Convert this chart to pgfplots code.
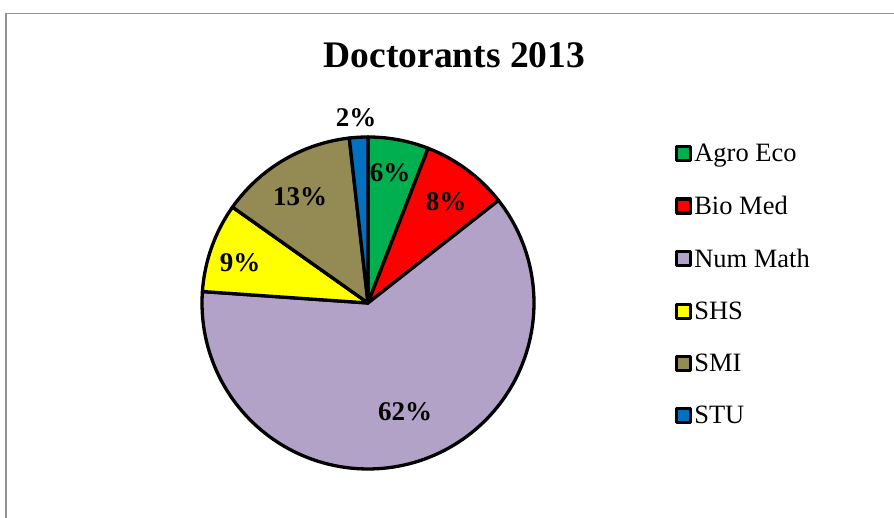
\documentclass[border=0pt]{standalone}
\usepackage{pgfplots}
\pgfplotsset{compat=1.18}
\usepackage{fontspec}
\setmainfont{Liberation Serif}
\definecolor{cAgro}{HTML}{00B050}
\definecolor{cBio}{HTML}{FF0000}
\definecolor{cNum}{HTML}{B3A2C7}
\definecolor{cSHS}{HTML}{FFFF00}
\definecolor{cSMI}{HTML}{948A54}
\definecolor{cSTU}{HTML}{0070C0}
% shares in percent
\def\vAgro{5.9}
\def\vBio{8.5}
\def\vNum{61.7}
\def\vSHS{8.7}
\def\vSMI{13.4}
\def\vSTU{1.8}
\begin{document}
\begin{tikzpicture}
\pgfmathsetmacro{\aA}{90}
\pgfmathsetmacro{\aB}{\aA-3.6*\vAgro}
\pgfmathsetmacro{\aC}{\aB-3.6*\vBio}
\pgfmathsetmacro{\aD}{\aC-3.6*\vNum}
\pgfmathsetmacro{\aE}{\aD-3.6*\vSHS}
\pgfmathsetmacro{\aF}{\aE-3.6*\vSMI}
\pgfmathsetmacro{\aG}{\aF-3.6*\vSTU}
\begin{axis}[
  at={(0,0)}, anchor=origin,
  scale only axis, width=894pt, height=518pt,
  xmin=0, xmax=894, ymin=0, ymax=518,
  hide axis, clip=false,
  every axis plot/.append style={draw=black, line width=3.3pt, line join=round, variable=\t},
  legend style={at={(axis cs:675,376)}, anchor=north west, draw=none, fill=none,
    font=\fontsize{26.5}{31}\selectfont, row sep=29pt, inner sep=0pt, outer sep=0pt,
    /tikz/every even column/.append style={column sep=4pt}},
  legend cell align=left,
  legend image code/.code={\draw[#1, line width=3.3pt] (1.5pt,-7pt) rectangle (15.5pt,7pt);},
]
\addplot[fill=cAgro, domain=\aB:\aA, samples=20] ({368+166*cos(t)},{215+166*sin(t)}) -- (axis cs:368,215) -- cycle;
\addlegendentry{Agro Eco}
\addplot[fill=cBio, domain=\aC:\aB, samples=20] ({368+166*cos(t)},{215+166*sin(t)}) -- (axis cs:368,215) -- cycle;
\addlegendentry{Bio Med}
\addplot[fill=cNum, domain=\aD:\aC, samples=120] ({368+166*cos(t)},{215+166*sin(t)}) -- (axis cs:368,215) -- cycle;
\addlegendentry{Num Math}
\addplot[fill=cSHS, domain=\aE:\aD, samples=20] ({368+166*cos(t)},{215+166*sin(t)}) -- (axis cs:368,215) -- cycle;
\addlegendentry{SHS}
\addplot[fill=cSMI, domain=\aF:\aE, samples=30] ({368+166*cos(t)},{215+166*sin(t)}) -- (axis cs:368,215) -- cycle;
\addlegendentry{SMI}
\addplot[fill=cSTU, domain=\aG:\aF, samples=8] ({368+166*cos(t)},{215+166*sin(t)}) -- (axis cs:368,215) -- cycle;
\addlegendentry{STU}
\begin{scope}[font=\fontsize{27}{31}\selectfont\bfseries]
\node at (axis cs:356,400) {2\%};
\node at (axis cs:390,345) {6\%};
\node at (axis cs:446,316) {8\%};
\node at (axis cs:300,321) {13\%};
\node at (axis cs:240,255) {9\%};
\node at (axis cs:405,106) {62\%};
\end{scope}
\node[font=\fontsize{37.5}{42}\selectfont\bfseries] at (axis cs:454.5,463) {Doctorants 2013};
\draw[gray!85, line width=1.6pt] (axis cs:6,-20) -- (axis cs:6,504.5) -- (axis cs:920,504.5);
\end{axis}
\pgfresetboundingbox
\useasboundingbox (0,0) rectangle (894pt,518pt);
\end{tikzpicture}
\end{document}
